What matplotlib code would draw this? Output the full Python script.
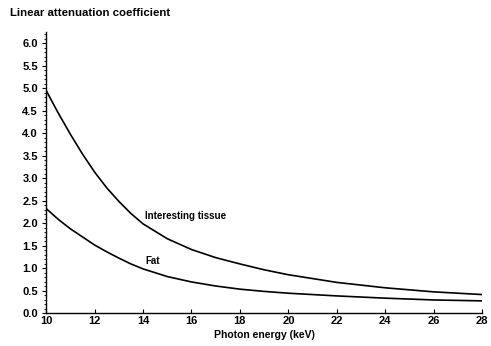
import matplotlib
matplotlib.use("Agg")
import matplotlib.pyplot as plt
from matplotlib.ticker import MultipleLocator

energy = [10, 10.5, 11, 11.5, 12, 12.5, 13, 13.5, 14, 15, 16, 17, 18, 19, 20, 22, 24, 26, 28]
tissue = [4.95, 4.45, 3.98, 3.54, 3.14, 2.79, 2.49, 2.22, 1.99, 1.66, 1.42, 1.24, 1.10, 0.97, 0.86, 0.69, 0.57, 0.48, 0.42]
fat = [2.33, 2.09, 1.88, 1.70, 1.52, 1.37, 1.23, 1.10, 0.99, 0.82, 0.70, 0.61, 0.54, 0.49, 0.45, 0.39, 0.34, 0.30, 0.28]
xticks = [10, 12, 14, 16, 18, 20, 22, 24, 26, 28]
yticks = [0.0, 0.5, 1.0, 1.5, 2.0, 2.5, 3.0, 3.5, 4.0, 4.5, 5.0, 5.5, 6.0]

plt.rcParams['font.family'] = ['Liberation Sans', 'DejaVu Sans']
plt.rcParams['font.weight'] = 'bold'

fig = plt.figure(figsize=(4.91, 3.46), dpi=100)
ax = fig.add_axes([0.094, 0.094, 0.888, 0.8135])

ax.plot(energy, tissue, color='black', lw=1.2)
ax.plot(energy, fat, color='black', lw=1.2)

ax.set_xlim(10, 28)
ax.set_ylim(0, 6.25)
ax.set_xticks(xticks)
ax.set_yticks(yticks)
ax.set_yticklabels([f"{v:.1f}" for v in yticks])
ax.yaxis.set_minor_locator(MultipleLocator(0.1))
ax.tick_params(axis='y', which='major', direction='out', length=3, labelsize=8, pad=3)
ax.tick_params(axis='y', which='minor', direction='out', length=1.2)
ax.tick_params(axis='x', direction='in', length=3, labelsize=8, pad=2)

for s in ['top', 'right']:
    ax.spines[s].set_visible(False)
for s in ['left', 'bottom']:
    ax.spines[s].set_linewidth(1.0)

ax.set_xlabel("Photon energy (keV)", fontsize=7.5, fontweight='bold', labelpad=3)
fig.text(0.02, 0.963, "Linear attenuation coefficient", fontsize=8.2, fontweight='bold',
         ha='left', va='center')

ax.text(14.1, 2.17, "Interesting tissue", fontsize=7, fontweight='bold', ha='left', va='center')
ax.text(14.1, 1.17, "Fat", fontsize=7, fontweight='bold', ha='left', va='center')

fig.savefig("out.png", dpi=100)
